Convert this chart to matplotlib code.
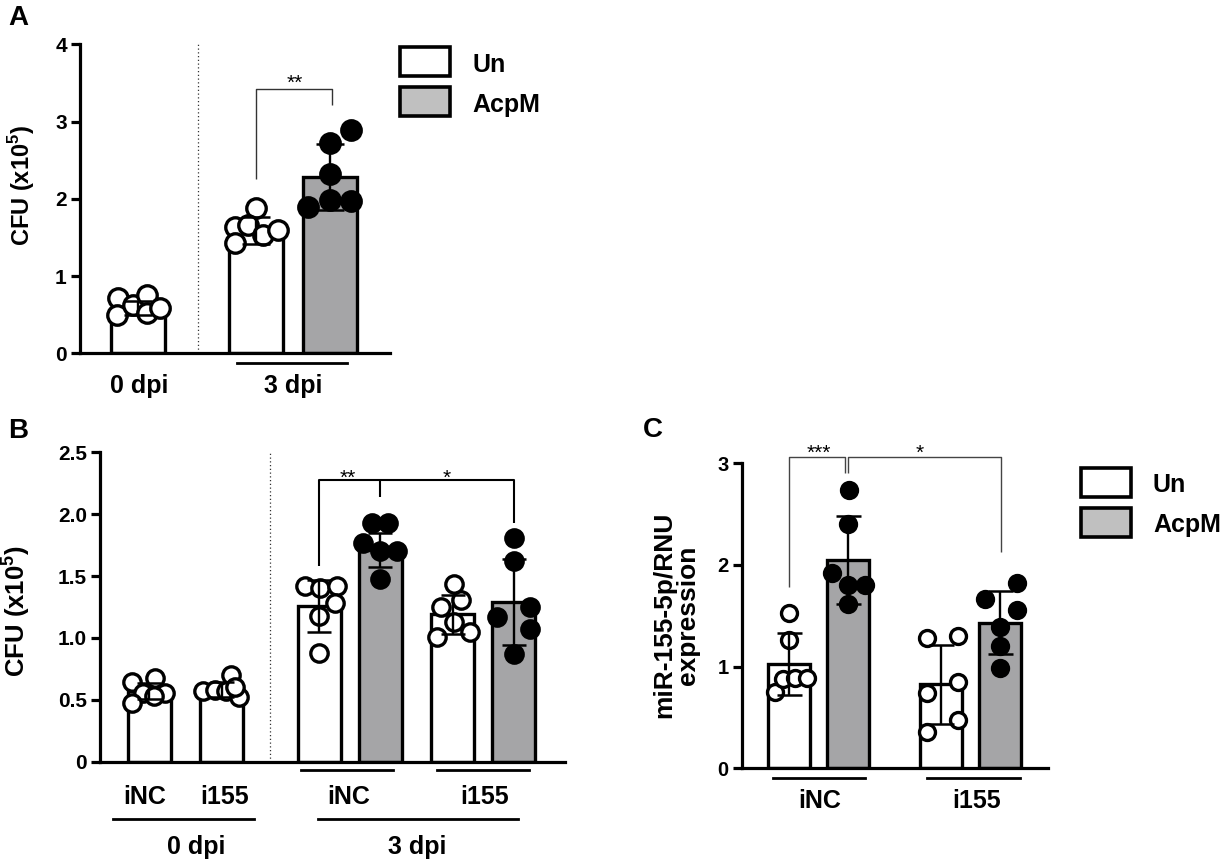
import matplotlib
matplotlib.use('Agg')
import matplotlib.pyplot as plt
from matplotlib.patches import Rectangle
from matplotlib.lines import Line2D

# ---- data ----
# panel A: CFU (x10^5)
a_means = [0.59, 1.59, 2.28]
a_sds = [0.09, 0.17, 0.43]
a_pts = [
    [0.71, 0.49, 0.62, 0.75, 0.52, 0.58],      # 0 dpi
    [1.885, 1.64, 1.66, 1.53, 1.59, 1.43],     # 3 dpi Un
    [2.72, 2.89, 2.32, 1.89, 1.99, 1.975],     # 3 dpi AcpM
]

# panel B: CFU (x10^5)
b_means = [0.57, 0.585, 1.255, 1.71, 1.19, 1.29]
b_sds = [0.065, 0.06, 0.21, 0.135, 0.16, 0.35]
b_pts = [
    [0.647, 0.674, 0.553, 0.553, 0.477, 0.528],
    [0.57, 0.58, 0.57, 0.70, 0.52, 0.60],
    [1.42, 1.40, 1.42, 1.28, 1.18, 0.875],
    [1.93, 1.93, 1.765, 1.70, 1.70, 1.48],
    [1.437, 1.253, 1.307, 1.132, 1.01, 1.05],
    [1.806, 1.625, 1.172, 1.253, 1.07, 0.871],
]

# panel C: miR-155-5p/RNU expression
c_means = [1.025, 2.05, 0.825, 1.43]
c_sds = [0.305, 0.43, 0.385, 0.31]
c_pts = [
    [1.53, 1.26, 0.75, 0.875, 0.885, 0.885],
    [2.74, 2.40, 1.92, 1.80, 1.80, 1.62],
    [1.28, 1.30, 0.74, 0.85, 0.475, 0.36],
    [1.82, 1.67, 1.56, 1.39, 1.20, 0.99],
]

treatments = ['Un', 'AcpM']
a_stars = ['**']
b_stars = ['**', '*']
c_stars = ['***', '*']

# ---- layout (figure pixels) ----
W, H = 1223, 859
WHITE, GRAY, LEG_GRAY = 'white', '#a5a5a7', '#c0c0c0'

a_centers = [138, 256, 330]
a_fill = [WHITE, WHITE, GRAY]
a_jit = [[-20, -21, -5, 9, 9, 22], [0, -21, -8, 7, 22, -21], [0, 21, 0, -22, 0, 21]]

b_centers = [149, 221.5, 319, 380, 452.5, 513.7]
b_fill = [WHITE, WHITE, WHITE, GRAY, WHITE, GRAY]
b_jit = [[-17, 6, -6, 16, -17, 5], [-19, -7, 4, 9, 17, 13], [-14, 1, 18, 16, 0, 0],
         [-8, 8, -17, 0, 17, 0], [1, -12, 8, 1, -16, 17], [0, 0, -17, 16, 16, 0]]

c_centers = [789, 847.5, 941, 1000]
c_fill = [WHITE, GRAY, WHITE, GRAY]
c_jit = [[0, 0, -14, -6, 6, 18], [1, 0, -16, 0, 17, 0], [-14, 17, -14, 17, 17, -14],
         [17, -15, 17, 0, 0, 0]]

plt.rcParams['font.family'] = ['Liberation Sans', 'DejaVu Sans']
plt.rcParams['font.weight'] = 'bold'
plt.rcParams['mathtext.fontset'] = 'custom'
plt.rcParams['mathtext.bf'] = 'Liberation Sans:bold'
plt.rcParams['mathtext.rm'] = 'Liberation Sans:bold'

fig = plt.figure(figsize=(W / 100, H / 100), dpi=100)


def fx(px):
    return px / W


def fy(py):
    return 1 - py / H


def hline(x0, x1, y, lw=2.0):
    fig.add_artist(Line2D([fx(x0), fx(x1)], [fy(y), fy(y)], color='black', lw=lw))


def label(x, y, s, size=18, **kw):
    fig.text(fx(x), fy(y), s, fontsize=size, ha='center', va='baseline', **kw)


def star(ax, px, cy, s, size=15):
    # cy = pixel centre of the asterisks
    base = cy + 0.59 * size * 100 / 72
    fig.text(fx(px), fy(base), s, fontsize=size, fontweight='normal',
             ha='center', va='baseline')


def panel(x_axis, x_end, y_top, y_zero, ymax, ticks, ticklabels, tsize=15):
    ax = fig.add_axes([fx(x_axis), fy(y_zero), (x_end - x_axis) / W, (y_zero - y_top) / H])
    ax.set_xlim(0, x_end - x_axis)
    ax.set_ylim(0, ymax)
    ax.patch.set_alpha(0)
    for s in ['top', 'right']:
        ax.spines[s].set_visible(False)
    for s in ['left', 'bottom']:
        ax.spines[s].set_linewidth(2.3)
    ax.set_xticks([])
    ax.set_yticks(ticks)
    ax.set_yticklabels(ticklabels)
    ax.tick_params(axis='y', length=6.5, width=2.3, labelsize=tsize, pad=3)
    ax.x0 = x_axis
    ax.y0 = y_zero
    ax.sc = (y_zero - y_top) / ymax
    return ax


def val(ax, py):
    return (ax.y0 - py) / ax.sc


def bars(ax, centers, means, sds, fills, pts, jit, width, ms, cap):
    xs = [c - ax.x0 for c in centers]
    ax.bar(xs, means, width=width, color=fills, edgecolor='black', linewidth=2.4, zorder=2)
    for x, p, j, f in zip(xs, pts, jit, fills):
        face = 'black' if f == GRAY else 'white'
        ax.plot([x + o for o in j], p, 'o', ms=ms, mfc=face, mec='black', mew=2.4,
                ls='none', zorder=4, clip_on=False)
    ax.errorbar(xs, means, yerr=sds, fmt='none', ecolor='black', elinewidth=1.7,
                capsize=cap, capthick=1.8, zorder=5)


def bracket(ax, segs, color, lw):
    # segs: list of ((px x, value), ...) polylines
    for seg in segs:
        ax.plot([p[0] - ax.x0 for p in seg], [p[1] for p in seg], color=color, lw=lw,
                clip_on=False, zorder=6, solid_capstyle='butt')


def legend(x0, y0, y1, tx, base0, base1):
    for y, face, name, base in [(y0, WHITE, treatments[0], base0), (y1, LEG_GRAY, treatments[1], base1)]:
        fig.add_artist(Rectangle((fx(x0), fy(y + 29)), 50 / W, 29 / H, facecolor=face,
                                 edgecolor='black', linewidth=2.6, transform=fig.transFigure))
        fig.text(fx(tx), fy(base), name, fontsize=18, ha='left', va='baseline')


# ---------- A ----------
axA = panel(80, 390, 44.3, 353.3, 4, [0, 1, 2, 3, 4], ['0', '1', '2', '3', '4'])
bars(axA, a_centers, a_means, a_sds, a_fill, a_pts, a_jit, 54, 14, 10)
axA.plot([198 - 80] * 2, [0, 4], ls=(0, (1, 2)), color='#333333', lw=0.9, zorder=1)
bracket(axA, [[(256, val(axA, 179)), (256, val(axA, 89)), (332, val(axA, 89)), (332, val(axA, 105))]],
        '#333333', 1.0)
star(axA, 295, 77, a_stars[0])
hline(237, 347, 363)
label(139, 393.3, '0 dpi')
label(293, 393.3, '3 dpi')
fig.text(fx(22), fy(185), r'CFU (x10$^{\mathbf{5}}$)', rotation=90, fontsize=17,
         ha='center', va='center')
fig.text(fx(8), fy(25), 'A', fontsize=20, ha='left', va='baseline')
legend(400, 47, 87, 472, 71.7, 111.7)

# ---------- B ----------
axB = panel(100, 565, 452.3, 761.7, 2.5, [0, 0.5, 1.0, 1.5, 2.0, 2.5],
            ['0', '0.5', '1.0', '1.5', '2.0', '2.5'])
bars(axB, b_centers, b_means, b_sds, b_fill, b_pts, b_jit, 43, 12.5, 8.5)
axB.plot([270 - 100] * 2, [0, 2.5], ls=(0, (1, 2)), color='#333333', lw=0.9, zorder=1)
top_b = val(axB, 480)
bracket(axB, [[(319, val(axB, 566)), (319, top_b), (513.7, top_b), (513.7, val(axB, 522.7))],
              [(380, top_b), (380, val(axB, 496.7))]], 'black', 1.5)
star(axB, 348, 472, b_stars[0])
star(axB, 447, 472, b_stars[1])
hline(300.7, 392.7, 770)
hline(437.3, 529.3, 770)
hline(113, 254, 819)
hline(318, 518, 819)
label(145, 804, 'iNC')
label(225, 804, 'i155')
label(349, 804, 'iNC')
label(485, 804, 'i155')
label(196, 854, '0 dpi')
label(417, 854, '3 dpi')
fig.text(fx(16), fy(611), r'CFU (x10$^{\mathbf{5}}$)', rotation=90, fontsize=18.5,
         ha='center', va='center')
fig.text(fx(8), fy(438), 'B', fontsize=20, ha='left', va='baseline')

# ---------- C ----------
axC = panel(741.7, 1048, 463.3, 768.3, 3, [0, 1, 2, 3], ['0', '1', '2', '3'], tsize=14.5)
bars(axC, c_centers, c_means, c_sds, c_fill, c_pts, c_jit, 42, 11.5, 9)
top_c = val(axC, 457.3)
bracket(axC, [[(789, val(axC, 587)), (789, top_c), (845, top_c), (845, val(axC, 473.3))],
              [(848.3, val(axC, 473.3)), (848.3, top_c), (1001, top_c), (1001, val(axC, 551.7))]],
        '#444444', 1.0)
star(axC, 819, 447, c_stars[0])
star(axC, 920, 447, c_stars[1])
hline(773, 865, 778)
hline(927, 1020, 778)
label(820, 808, 'iNC')
label(977, 808, 'i155')
fig.text(fx(676), fy(615), 'miR-155-5p/RNU\nexpression', rotation=90, fontsize=19,
         ha='center', va='center', multialignment='center', linespacing=1.0)
fig.text(fx(643), fy(437), 'C', fontsize=20, ha='left', va='baseline')
legend(1081, 468, 508, 1153, 491.7, 531.7)

fig.savefig('out.png', dpi=100)
